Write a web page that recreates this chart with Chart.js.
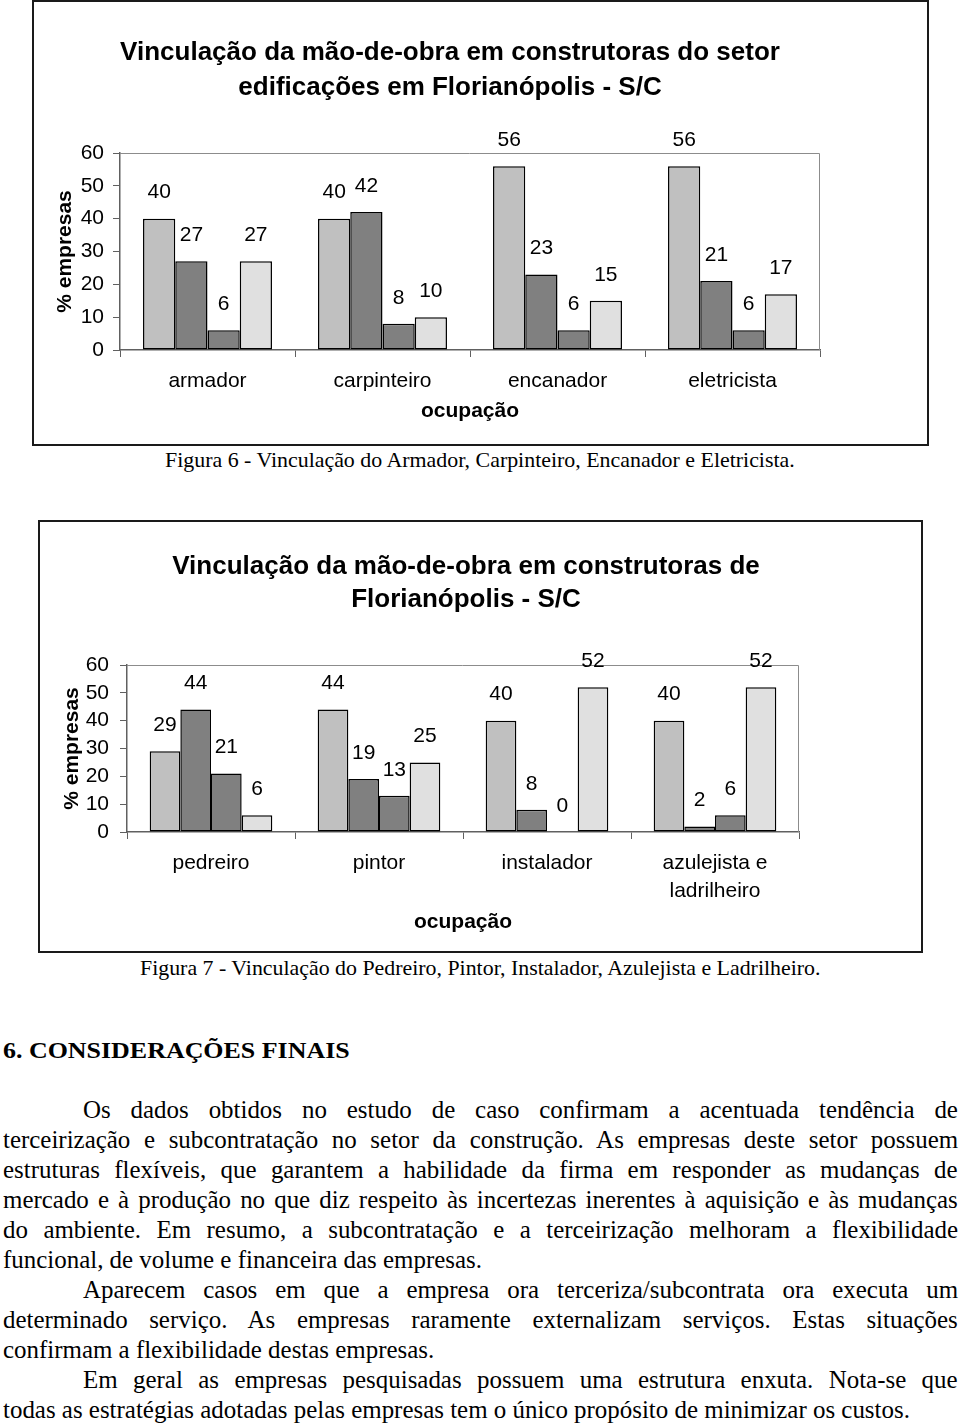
<!DOCTYPE html>
<html lang="pt-BR">
<head>
<meta charset="utf-8">
<script src="https://cdn.jsdelivr.net/npm/chart.js@4.4.0/dist/chart.umd.min.js"></script>
<style>
  body { margin: 0; background: #fff; width: 960px; height: 1427px; position: relative; overflow: hidden; }
  .caixa { position: absolute; border: 2px solid #1a1a1a; box-sizing: border-box; }
  canvas { position: absolute; }
  .serif { font-family: 'Liberation Serif', 'Times New Roman', serif; color: #000; }
  .cap { position: absolute; display: inline-block; white-space: nowrap; font-size: 22px; line-height: 26px; transform-origin: 0 0; }
  #secao { position: absolute; left: 3px; top: 1035px; font-size: 24px; line-height: 30px; font-weight: bold; white-space: nowrap; display: inline-block; transform-origin: 0 0; }
  #corpo { position: absolute; left: 3px; top: 1095px; font-size: 26px; line-height: 30px; transform-origin: 0 0; }
  #corpo .l { white-space: nowrap; }
  #corpo .l span { display: inline-block; }
</style>
</head>
<body>

<div class="caixa" style="left:32px; top:0px; width:897px; height:446px;"></div>
<canvas id="fig6" width="834" height="440" style="left:33px; top:3px;"></canvas>
<div class="cap serif" id="leg6" style="left:165px; top:447px;">Figura 6 - Vinculação do Armador, Carpinteiro, Encanador e Eletricista.</div>

<div class="caixa" style="left:38px; top:520px; width:885px; height:433px;"></div>
<canvas id="fig7" width="854" height="430" style="left:39px; top:521px;"></canvas>
<div class="cap serif" id="leg7" style="left:140px; top:955px;">Figura 7 - Vinculação do Pedreiro, Pintor, Instalador, Azulejista e Ladrilheiro.</div>

<div id="secao" class="serif">6. CONSIDERAÇÕES FINAIS</div>

<div id="corpo" class="serif">
  <div class="l j r"><span>Os dados obtidos no estudo de caso confirmam a acentuada tendência de</span></div>
  <div class="l j"><span>terceirização e subcontratação no setor da construção. As empresas deste setor possuem</span></div>
  <div class="l j"><span>estruturas flexíveis, que garantem a habilidade da firma em responder as mudanças de</span></div>
  <div class="l j"><span>mercado e à produção no que diz respeito às incertezas inerentes à aquisição e às mudanças</span></div>
  <div class="l j"><span>do ambiente. Em resumo, a subcontratação e a terceirização melhoram a flexibilidade</span></div>
  <div class="l"><span>funcional, de volume e financeira das empresas.</span></div>
  <div class="l j r"><span>Aparecem casos em que a empresa ora terceriza/subcontrata ora executa um</span></div>
  <div class="l j"><span>determinado serviço. As empresas raramente externalizam serviços. Estas situações</span></div>
  <div class="l"><span>confirmam a flexibilidade destas empresas.</span></div>
  <div class="l j r"><span>Em geral as empresas pesquisadas possuem uma estrutura enxuta. Nota-se que</span></div>
  <div class="l"><span>todas as estratégias adotadas pelas empresas tem o único propósito de minimizar os custos.</span></div>
</div>

<script>
// Figura 6
const categorias6 = ['armador', 'carpinteiro', 'encanador', 'eletricista'];
const serieA6 = [40, 40, 56, 56];
const serieB6 = [27, 42, 23, 21];
const serieC6 = [6, 8, 6, 6];
const serieD6 = [27, 10, 15, 17];

// Figura 7
const categorias7 = ['pedreiro', 'pintor', 'instalador', ['azulejista e', 'ladrilheiro']];
const serieA7 = [29, 44, 40, 40];
const serieB7 = [44, 19, 8, 2];
const serieC7 = [21, 13, 0, 6];
const serieD7 = [6, 25, 52, 52];

const escalaY = [0, 10, 20, 30, 40, 50, 60];
const cores = ['#c0c0c0', '#808080', '#808080', '#e0e0e0'];

Chart.defaults.font.family = "'Liberation Sans', Arial, sans-serif";
Chart.defaults.color = '#000';

// borda cinza em cima e à direita da área do gráfico
const moldura = {
  id: 'moldura',
  beforeDatasetsDraw(chart) {
    const { ctx, chartArea: a } = chart;
    ctx.save();
    ctx.strokeStyle = '#8c8c8c';
    ctx.lineWidth = 1;
    ctx.beginPath();
    ctx.moveTo(a.left, a.top + 0.5);
    ctx.lineTo(a.right - 0.5, a.top + 0.5);
    ctx.lineTo(a.right - 0.5, a.bottom);
    ctx.stroke();
    ctx.restore();
  }
};

// valores acima das barras
const rotulos = {
  id: 'rotulos',
  afterDatasetsDraw(chart) {
    const ctx = chart.ctx;
    ctx.save();
    ctx.font = "21px 'Liberation Sans', Arial, sans-serif";
    ctx.fillStyle = '#000';
    ctx.textAlign = 'center';
    ctx.textBaseline = 'middle';
    chart.data.datasets.forEach((ds, i) => {
      chart.getDatasetMeta(i).data.forEach((bar, j) => {
        ctx.fillText(String(ds.data[j]), bar.x, bar.y - 26);
      });
    });
    ctx.restore();
  }
};

function grafico(id, titulo, cats, series, o) {
  return new Chart(document.getElementById(id), {
    type: 'bar',
    data: {
      labels: cats,
      datasets: series.map((d, i) => ({
        label: 'série ' + (i + 1),
        data: d,
        backgroundColor: cores[i],
        borderColor: '#000',
        borderWidth: 1.5,
        borderSkipped: false,
        categoryPercentage: o.cat,
        barPercentage: 1
      }))
    },
    options: {
      responsive: false,
      animation: false,
      layout: { padding: { bottom: o.padBottom } },
      plugins: {
        legend: { display: false },
        tooltip: { enabled: false },
        title: {
          display: true,
          text: titulo,
          color: '#000',
          font: { size: 26, weight: 'bold', lineHeight: o.titleLH },
          padding: { top: o.titleTop, bottom: o.titleBottom }
        }
      },
      scales: {
        x: {
          grid: { drawOnChartArea: false, tickLength: 7, color: '#606060', lineWidth: 1 },
          border: { color: '#606060', width: 1.5 },
          ticks: { color: '#000', font: { size: 21, lineHeight: o.xLH }, padding: o.xPad, maxRotation: 0, autoSkip: false },
          title: { display: true, text: 'ocupação', color: '#000', font: { size: 21, weight: 'bold' }, padding: { top: o.xtTop, bottom: 0 } }
        },
        y: {
          min: escalaY[0],
          max: escalaY[escalaY.length - 1],
          ticks: { stepSize: escalaY[1] - escalaY[0], autoSkip: false, color: '#000', font: { size: 21 }, padding: o.yPad },
          grid: { drawOnChartArea: false, tickLength: 7, color: '#606060' },
          border: { color: '#606060', width: 1.5 },
          title: { display: true, text: '% empresas', color: '#000', font: { size: 21, weight: 'bold' }, padding: { top: o.ytTop, bottom: 0 } },
          afterFit: s => { s.width = o.yW; }
        },
        folga: {
          position: 'right',
          grid: { display: false },
          ticks: { display: false },
          border: { display: false },
          afterFit: s => { s.width = o.rW; }
        }
      }
    },
    plugins: [moldura, rotulos]
  });
}

grafico('fig6',
  ['Vinculação da mão-de-obra em construtoras do setor', 'edificações em Florianópolis - S/C'],
  categorias6, [serieA6, serieB6, serieC6, serieD6],
  { cat: 0.737, padBottom: 19.4, titleLH: '35px', titleTop: 32, titleBottom: 48,
    xLH: '24px', xPad: 12, xtTop: -6.6, yPad: 9, ytTop: 19.4, yW: 87, rW: 47 });

grafico('fig7',
  ['Vinculação da mão-de-obra em construtoras de', 'Florianópolis - S/C'],
  categorias7, [serieA7, serieB7, serieC7, serieD7],
  { cat: 0.73, padBottom: 16.4, titleLH: '33px', titleTop: 29.5, titleBottom: 48.5,
    xLH: '28px', xPad: 10, xtTop: -5.6, yPad: 11, ytTop: 20.4, yW: 88, rW: 94 });

// texto: a página de origem é um pouco comprimida na horizontal
function ajusta(el, largura) {
  el.style.transform = `scaleX(${largura / el.offsetWidth})`;
}
ajusta(document.getElementById('leg6'), 630);
ajusta(document.getElementById('leg7'), 680);
ajusta(document.getElementById('secao'), 347);

const corpo = document.getElementById('corpo');
const linhas = [...corpo.querySelectorAll('.l')];
const ultima = linhas[linhas.length - 1].firstElementChild;
const c = 907 / ultima.offsetWidth;
corpo.style.transform = `scaleX(${c})`;
corpo.style.width = (955 / c) + 'px';
linhas.forEach(l => {
  const s = l.firstElementChild;
  const recuo = l.classList.contains('r') ? 80 / c : 0;
  l.style.paddingLeft = recuo + 'px';
  if (l.classList.contains('j')) {
    const n = (s.textContent.match(/ /g) || []).length;
    s.style.wordSpacing = ((955 / c - recuo - s.offsetWidth) / n) + 'px';
  }
});
</script>
</body>
</html>
